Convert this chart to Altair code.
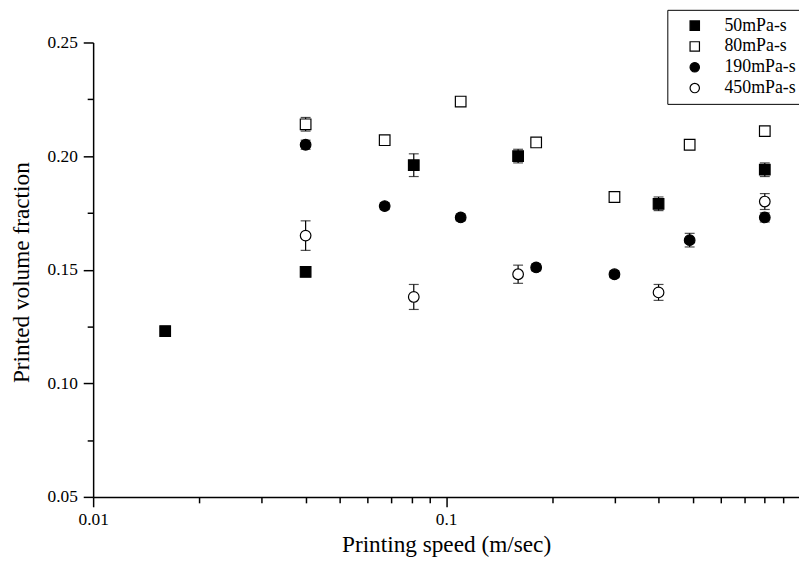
import altair as alt
import pandas as pd

SERIES = ["50mPa-s", "80mPa-s", "190mPa-s", "450mPa-s"]
SHAPES = ["square", "square", "circle", "circle"]
FILLS = ["black", "white", "black", "white"]
STROKES = ["black", "black", "black", "black"]

SPEED_50 = [0.016, 0.04, 0.081, 0.16, 0.4, 0.8]
FRAC_50 = [0.123, 0.149, 0.196, 0.200, 0.179, 0.194]
ERR_50 = [0.001, 0.002, 0.005, 0.003, 0.003, 0.003]

SPEED_80 = [0.04, 0.067, 0.11, 0.18, 0.3, 0.49, 0.8]
FRAC_80 = [0.214, 0.207, 0.224, 0.206, 0.182, 0.205, 0.211]
ERR_80 = [0.003, 0.002, 0.002, 0.001, 0.002, 0.002, 0.002]

SPEED_190 = [0.04, 0.067, 0.11, 0.18, 0.3, 0.49, 0.8]
FRAC_190 = [0.205, 0.178, 0.173, 0.151, 0.148, 0.163, 0.173]
ERR_190 = [0.002, 0.0015, 0.0015, 0.0015, 0.0015, 0.003, 0.002]

SPEED_450 = [0.04, 0.081, 0.16, 0.4, 0.8]
FRAC_450 = [0.165, 0.138, 0.148, 0.140, 0.180]
ERR_450 = [0.0065, 0.0055, 0.004, 0.0035, 0.0035]

X_TICKS = [0.01, 0.02, 0.03, 0.04, 0.05, 0.06, 0.07, 0.08, 0.09,
           0.1, 0.2, 0.3, 0.4, 0.5, 0.6, 0.7, 0.8, 0.9]
Y_TICKS = [0.05, 0.075, 0.10, 0.125, 0.15, 0.175, 0.20, 0.225, 0.25]

rows = []
for name, xs, ys, es in [
    (SERIES[0], SPEED_50, FRAC_50, ERR_50),
    (SERIES[1], SPEED_80, FRAC_80, ERR_80),
    (SERIES[2], SPEED_190, FRAC_190, ERR_190),
    (SERIES[3], SPEED_450, FRAC_450, ERR_450),
]:
    for x, y, e in zip(xs, ys, es):
        rows.append({"series": name, "speed": x, "frac": y,
                     "lo": y - e, "hi": y + e})
df = pd.DataFrame(rows)

FONT = "Liberation Serif"

x_major = "abs(log(datum.value)/LN10 - round(log(datum.value)/LN10)) < 0.001"
y_major = "abs(datum.value*20 - round(datum.value*20)) < 0.001"

x_axis = alt.Axis(
    values=X_TICKS,
    title="Printing speed (m/sec)",
    labelExpr=f"{x_major} ? format(datum.value, '~g') : ''",
    tickSize={"condition": {"test": x_major, "value": 10}, "value": 6},
    labelOverlap=False, labelFlush=False, labelPadding=4,
    titleY=48, titleBaseline="middle",
)
y_axis = alt.Axis(
    values=Y_TICKS,
    title="Printed volume fraction",
    labelExpr=f"{y_major} ? format(datum.value, '.2f') : ''",
    tickSize={"condition": {"test": y_major, "value": 10}, "value": 6},
    labelOverlap=False, labelFlush=False, labelPadding=6,
    titleX=-72, titleY=232, titleAngle=-90, titleAlign="center",
    titleBaseline="middle",
)
x_scale = alt.Scale(type="log", domain=[0.01, 1.0], nice=False)
y_scale = alt.Scale(domain=[0.05, 0.25], nice=False, zero=False)

X = alt.X("speed:Q", scale=x_scale, axis=x_axis)

base = alt.Chart(df)

legend = alt.Legend(
    title=None, orient="none", legendX=580, legendY=-33,
    padding=7, strokeColor="black", symbolOffset=11.7,
    labelOffset=21, rowPadding=3, labelFont=FONT, labelFontSize=18,
    labelColor="black", symbolSize=90, symbolStrokeColor="black",
    symbolStrokeWidth=1.2,
)

rules = base.mark_rule(color="black", strokeWidth=1.2).encode(
    x=X,
    y=alt.Y("lo:Q", scale=y_scale, axis=y_axis),
    y2="hi:Q",
)
caps_lo = base.mark_tick(orient="horizontal", size=10, thickness=1.2,
                         color="black").encode(
    x=X, y=alt.Y("lo:Q", scale=y_scale, axis=y_axis))
caps_hi = base.mark_tick(orient="horizontal", size=10, thickness=1.2,
                         color="black").encode(
    x=X, y=alt.Y("hi:Q", scale=y_scale, axis=y_axis))

points = base.mark_point(filled=True, strokeWidth=1.2,
                         size=115, opacity=1).encode(
    x=X,
    y=alt.Y("frac:Q", scale=y_scale, axis=y_axis),
    shape=alt.Shape("series:N", scale=alt.Scale(domain=SERIES, range=SHAPES),
                    legend=legend),
    fill=alt.Fill("series:N", scale=alt.Scale(domain=SERIES, range=FILLS),
                  legend=legend),
    stroke=alt.Stroke("series:N", scale=alt.Scale(domain=SERIES, range=STROKES),
                      legend=legend),
)

chart = alt.layer(rules, caps_lo, caps_hi, points).properties(
    width=713, height=459,
    autosize=alt.AutoSizeParams(type="none"),
    padding={"left": 86, "top": 32, "right": 0, "bottom": 70},
).configure_view(stroke=None).configure_axis(
    domainColor="black", tickColor="black", labelColor="black",
    titleColor="black", grid=False, labelFont=FONT, titleFont=FONT,
    titleFontWeight="normal", labelFontSize=17.5, titleFontSize=23.5,
    domainWidth=1.5, tickWidth=1.5,
)

chart.save("out.html", embed_options={"renderer": "svg", "actions": False})
